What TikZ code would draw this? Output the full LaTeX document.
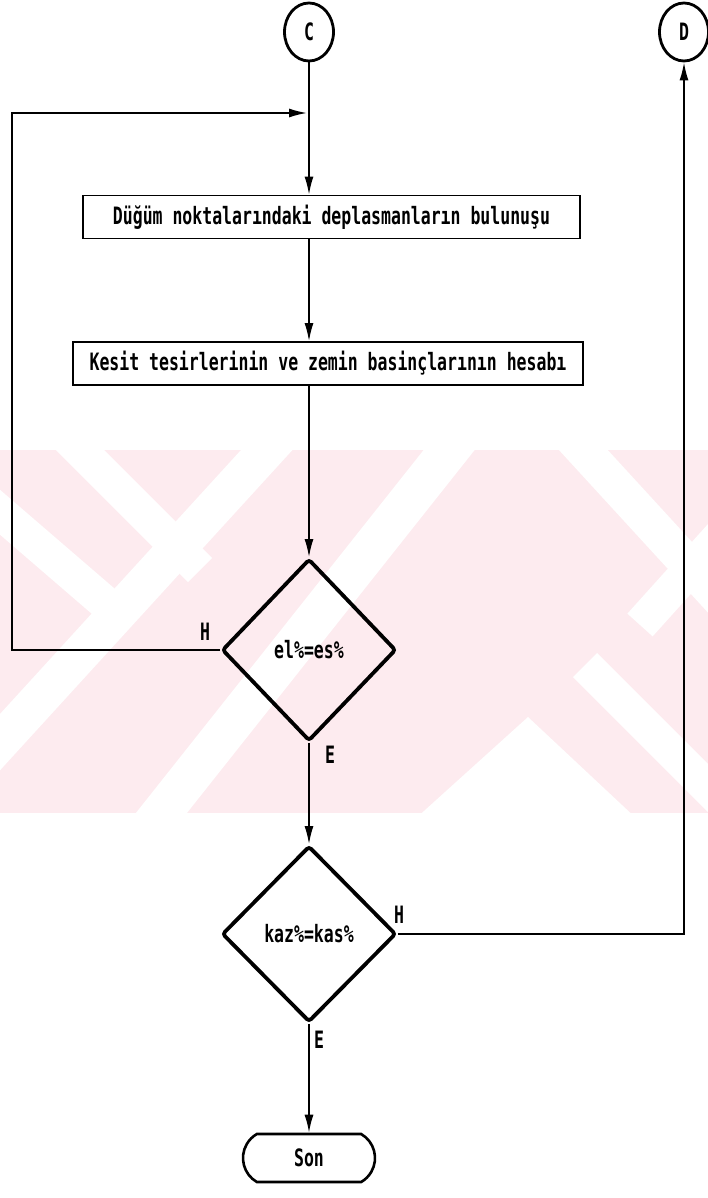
\documentclass[tikz,border=0pt]{standalone}
\usepackage{fontspec}
\usepackage{graphicx}
\usetikzlibrary{shapes.geometric,shapes.misc,arrows.meta}
\newfontfamily\flowfont{DejaVu Sans Mono}
\definecolor{markpink}{RGB}{253,235,239}
\newcommand\tall[1]{\scalebox{1}[1.45]{#1}}
\tikzset{
  txt/.style={font=\flowfont\bfseries\fontsize{16.5}{19}\selectfont},
  link/.style={line width=1.6pt},
  flow/.style={line width=1.6pt, -{Latex[length=18pt,width=9pt]}},
  procbox/.style={rectangle, draw, line width=1.8pt, inner sep=0pt, minimum height=43pt, txt},
  decide/.style={diamond, draw, line width=3.8pt, rounded corners=3pt, inner sep=0pt, txt},
  connector/.style={ellipse, draw, line width=2.8pt, inner sep=0pt, minimum width=49pt, minimum height=58pt, txt},
  terminal/.style={rounded rectangle, rounded rectangle arc length=120, draw, line width=2.6pt,
                   inner sep=0pt, minimum width=132pt, minimum height=48pt, txt},
  branch/.style={txt, inner sep=0pt}
}
\begin{document}
\begin{tikzpicture}[x=1pt,y=-1pt]
\useasboundingbox (0,0) rectangle (708,1198);

% faint background band with diagonal stripes
\begin{scope}
  \clip (0,450) rectangle (708,813);
  \fill[markpink] (0,450) rectangle (708,813);
  \draw[white, line width=34pt] (60,430) -- (200,570);
  \draw[white, line width=34pt] (-20,495) -- (125,620);
  \draw[white, line width=38pt] (285,430) -- (-30,775);
  \draw[white, line width=40pt] (465,430) -- (140,840);
  \draw[white, line width=36pt] (565,430) -- (730,610);
  \draw[white, line width=34pt] (730,525) -- (640,625);
  \draw[white, line width=34pt] (585,665) -- (740,820);
  \fill[white] (528,717) -- (638,820) -- (414,820) -- cycle;
\end{scope}

% nodes
\node[connector] (C) at (309,32) {\tall{C}};
\node[connector] (D) at (684,32) {\tall{D}};
\node[procbox, minimum width=497pt] (b1) at (331.5,217)
  {\tall{Düğüm noktalarındaki deplasmanların bulunuşu}};
\node[procbox, minimum width=510pt] (b2) at (328,363.5)
  {\tall{Kesit tesirlerinin ve zemin basinçlarının hesabı}};
\node[decide, minimum width=174pt, minimum height=182pt] (d1) at (309,650) {\tall{el\%=es\%}};
\node[decide, minimum width=174pt, minimum height=176pt] (d2) at (309,934) {\tall{kaz\%=kas\%}};
\node[terminal] (son) at (309,1158) {\tall{Son}};

% branch labels
\node[branch] (h1) at (205,632) {\tall{H}};
\node[branch] (e1) at (330,755) {\tall{E}};
\node[branch] (h2) at (399,915) {\tall{H}};
\node[branch] (e2) at (319,1040) {\tall{E}};

% turning points
\coordinate (loopbot) at (12,650);
\coordinate (looptop) at (12,113);
\coordinate (loopend) at (307,113);
\coordinate (dturn) at (D.south |- d2.east);

% connectors
\draw[flow] (C.south) -- (C.south |- b1.north);
\draw[flow] (C.south |- b1.south) -- (C.south |- b2.north);
\draw[flow] (C.south |- b2.south) -- (d1.north);
\draw[flow] (d1.south) -- (d2.north);
\draw[flow] (d2.south) -- (son.north);
\draw[flow] (d1.west) -- (loopbot) -- (looptop) -- (loopend);
\draw[flow] (d2.east) -- (dturn) -- (D.south);
\end{tikzpicture}
\end{document}
